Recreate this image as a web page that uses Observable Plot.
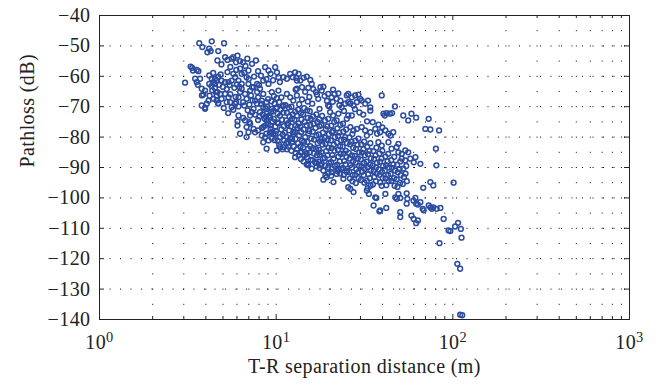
<!DOCTYPE html>
<html><head><meta charset="utf-8">
<script src="https://cdn.jsdelivr.net/npm/d3@7"></script>
<script src="https://cdn.jsdelivr.net/npm/@observablehq/plot@0.6"></script>
<style>html,body{margin:0;padding:0;background:#fff}</style>
</head><body><div id="chart"></div>
<script>
// [T-R separation distance (m), pathloss (dB)]
const measurements = [
[3.05,-62.1],[3.35,-57.2],[3.38,-58.1],[3.28,-56.8],[3.63,-58.3],[3.48,-60.8],[3.55,-61.9],[3.71,-60.8],[3.79,-64.1],[3.8,-66.3],[3.96,-64.7],[3.79,-69.6],[3.96,-70.7],[4.14,-68.0],[4.05,-69.0],[3.67,-49.1],[3.82,-50.4],[4.32,-48.5],[4.18,-50.9],[4.08,-52.1],[4.26,-51.7],[4.7,-51.7],[5.07,-49.1],[4.65,-54.8],[5.14,-53.7],[5.3,-54.6],[5.6,-54.2],[5.72,-53.7],[6.04,-53.2],[5.93,-55.4],[6.25,-55.0],[6.5,-55.4],[6.87,-54.2],[7.3,-55.9],[7.68,-54.8],
[4.18,-59.7],[4.32,-60.8],[4.42,-61.9],[4.51,-62.5],[4.6,-61.4],[4.7,-60.1],[4.91,-61.4],[5.14,-61.9],[5.37,-61.9],[5.6,-61.4],[5.86,-60.3],[6.12,-61.4],[6.38,-62.5],[6.8,-60.3],[6.97,-62.5],[5.72,-59.2],[6.25,-57.5],[6.38,-59.2],[6.97,-58.1],
[3.87,-66.0],[4.42,-67.4],[4.56,-65.2],[4.82,-65.8],[4.7,-68.8],[4.91,-67.4],[4.18,-62.5],[4.51,-60.8],[4.65,-65.2],[4.6,-66.3],[4.6,-68.0],[5.14,-65.8],[5.37,-66.9],[5.49,-68.5],[5.6,-70.2],[5.72,-71.0],[5.93,-68.5],[6.12,-66.9],[6.25,-65.2],[6.38,-64.1],[6.67,-65.8],[6.8,-67.4],[7.12,-64.7],[7.3,-63.6],
[6.12,-72.9],[6.04,-74.8],[6.5,-73.7],[7.12,-72.9],[7.05,-75.1],[6.04,-76.2],[6.25,-78.9],[6.8,-76.7],[6.8,-80.0],[6.67,-74.5],[7.12,-75.6],[7.45,-77.3],[6.97,-78.4],[7.6,-78.4],[7.9,-77.8],[8.45,-76.7],[8.83,-74.5],[9.25,-76.2],[8.3,-79.5],[8.66,-80.0],[8.45,-81.7],[9.05,-81.1],[8.83,-83.8],[9.45,-78.4],[9.87,-78.9],[10.1,-84.4],[10.5,-83.3],[11.0,-83.3],[11.5,-80.0],[11.7,-81.7],[12.3,-80.6],[12.5,-78.4],[5.25,-68.5],[5.86,-69.0],[6.12,-69.9],[6.5,-68.5],
[7.45,-63.6],[7.8,-65.2],[8.1,-64.1],[8.45,-65.8],[7.9,-66.9],[8.3,-68.0],[7.6,-68.0],[7.8,-69.0],[8.45,-70.2],[8.83,-68.5],[8.1,-71.8],[7.45,-70.7],[7.3,-71.8],[8.83,-72.3],[9.45,-70.7],[9.25,-73.5],[10.1,-70.2],[10.3,-64.7],[9.45,-65.2],[9.05,-62.5],[7.8,-62.5],[8.45,-61.4],[8.66,-57.0],[9.05,-58.1],[9.3,-59.2],[9.87,-57.0],[10.1,-58.7],[10.3,-60.3],[10.5,-61.9],[11.0,-60.3],[11.5,-60.8],[12.0,-59.2],[12.4,-60.3],[12.8,-58.7],[13.1,-61.4],[13.4,-59.2],[10.7,-66.9],[11.5,-65.8],[12.0,-66.9],[12.5,-68.0],[13.1,-66.3],[11.0,-69.6],
[3.96,-70.3],[4.7,-69.0],
[4.3,-63.2],[4.5,-63.9],[4.75,-62.8],[5.0,-63.5],[5.25,-64.2],[5.45,-62.9],[5.8,-63.8],[6.0,-62.7],[5.5,-65.9],[5.9,-66.8],[6.2,-63.5],[4.4,-58.9],[4.85,-59.4],[5.3,-58.6],[5.95,-57.9],[6.6,-58.8],[7.0,-60.9],[7.5,-60.1],[7.2,-66.3],[6.6,-69.6],[7.05,-69.3],[7.6,-72.6],[7.9,-74.4],[8.05,-73.2],[6.9,-71.2],[5.35,-72.1],[5.05,-70.4],[4.35,-64.6],[4.2,-66.4],[3.55,-57.9],[3.6,-62.8],[4.9,-56.1],[5.5,-56.9],[6.7,-56.6],[7.9,-58.3],[8.2,-59.8],[8.8,-60.9],[9.6,-61.3],[7.35,-67.9],[8.0,-62.9],
[13.0,-60.5],[13.7,-61.4],[14.3,-60.5],[14.9,-60.1],[15.6,-61.2],[15.9,-62.5],[15.2,-63.8],[14.0,-63.6],[13.1,-64.1],[17.8,-63.6],[18.5,-63.4],[18.1,-64.7],[16.8,-65.2],[17.0,-66.0],[19.7,-65.8],[20.6,-66.9],[21.4,-65.8],[22.5,-65.6],[22.0,-67.4],[23.1,-68.0],[25.1,-66.3],[25.6,-65.8],[26.8,-66.9],[28.0,-66.3],[29.2,-66.0],[29.9,-67.4],[28.6,-68.5],[30.5,-68.0],[31.9,-69.0],[33.1,-68.0],[34.1,-70.2],[25.6,-68.5],[26.3,-69.0],[27.4,-69.6],[24.6,-69.0],[21.0,-64.4],[20.0,-69.9],[34.1,-71.3],[39.6,-66.3],[47.0,-69.9],[40.5,-72.3],[42.2,-72.1],[44.0,-72.3],[45.3,-72.1],[41.2,-72.9],[58.3,-72.3],[55.9,-74.5],[62.0,-73.6],[52.4,-72.9],[73.0,-74.0],[69.9,-77.3],[74.6,-77.5],[83.6,-77.8],[80.2,-83.8],[80.7,-89.3],[101,-95.0],
[14.6,-65.1],[15.4,-66.8],[16.2,-64.2],[17.3,-67.4],[18.8,-66.5],[19.4,-68.1],[20.9,-68.4],[22.8,-69.5],[24.2,-71.4],[27.9,-70.8],[29.6,-71.9],[31.1,-72.6],[32.7,-74.8],[35.2,-75.1],[38.0,-75.9],[39.9,-76.8],[16.0,-69.0],[17.6,-70.7],[14.0,-67.6],[13.5,-69.2],[12.9,-64.4],[15.1,-68.3],
[19.7,-69.6],[20.2,-71.8],[21.0,-72.9],[22.5,-72.3],[23.5,-70.2],[25.6,-72.9],[26.8,-72.9],[22.0,-74.5],[23.9,-75.6],[25.1,-74.0],[26.3,-76.7],[27.4,-77.8],[28.6,-77.3],[30.5,-76.7],[31.9,-77.8],[32.6,-79.5],[34.1,-78.4],[36.4,-77.3],[37.3,-78.9],[38.8,-78.4],[41.5,-77.8],[43.2,-78.9],[46.0,-78.4],[44.3,-79.5],[49.2,-82.2],[37.9,-81.7],[39.6,-82.8],[43.2,-81.7],[45.0,-83.8],[48.1,-83.3],[49.2,-85.0],[51.4,-85.5],[53.8,-84.4],[55.9,-85.0],[57.4,-87.1],[53.8,-87.7],[51.4,-87.1],[60.1,-88.3],[61.4,-86.6],[65.5,-88.8],
[12.8,-86.6],[13.7,-85.0],[14.9,-85.5],[15.2,-89.3],[15.9,-90.4],[16.6,-88.3],[17.8,-89.3],[18.5,-91.0],[19.3,-93.2],[20.6,-91.5],[21.1,-94.8],[22.5,-90.4],[24.0,-93.7],[25.1,-91.5],[25.6,-96.5],
[14.9,-89.0],[16.9,-89.6],[18.1,-88.8],[18.5,-94.0],[19.0,-92.6],[19.7,-91.9],[22.0,-92.1],[26.3,-97.0],[27.4,-98.1],[32.6,-97.6],[33.5,-98.7],[35.6,-102.5],[36.4,-99.8],[38.8,-104.1],[41.5,-98.7],[42.0,-103.3],[47.2,-99.8],[48.1,-100.3],[50.4,-104.7],[50.4,-106.3],[54.8,-98.5],[54.8,-101.9],[58.3,-105.8],[60.0,-106.9],[62.0,-108.3],[63.4,-107.4],[60.0,-100.9],[62.0,-101.9],[65.5,-101.4],[67.5,-103.6],[68.4,-104.1],[73.0,-102.5],[74.6,-103.1],[76.0,-103.6],[77.5,-103.1],[81.0,-103.6],[85.0,-103.3],[88.7,-106.9],[94.6,-110.7],[84.0,-114.9],[74.6,-94.8],[77.5,-95.9],[68.0,-96.7],[36.9,-100.0],[38.4,-104.4],[49.2,-98.7],[50.4,-100.0],[55.3,-100.3],[61.4,-100.0],[63.4,-102.2],[96.8,-110.9],[103,-109.4],[107,-108.2],[111,-110.2],[112,-113.1],[106,-121.7],[110,-123.3],[110,-138.4],[113,-138.6],
[8.2,-69],[8.4,-72.5],[8.6,-74],[8.3,-77],
[9.0,-67.5],[8.9,-70],[9.1,-73],[9.0,-75.5],[9.2,-78.5],
[9.7,-66.5],[9.8,-69],[9.6,-71.5],[9.7,-74],[9.9,-76.5],[9.6,-79],[9.8,-81],
[10.4,-68.5],[10.6,-71],[10.5,-73],[10.3,-75.5],[10.7,-77.5],[10.5,-80],[10.4,-82.5],
[11.3,-69.5],[11.5,-72],[11.4,-74.5],[11.6,-76],[11.2,-78.5],[11.4,-82],[11.5,-84],
[12.2,-70],[12.4,-72.5],[12.3,-74],[12.1,-76.5],[12.5,-79],[12.3,-81.5],[12.2,-84.5],
[13.3,-71],[13.1,-73],[13.4,-75.5],[13.2,-77],[13.5,-79.5],[13.3,-82],[13.1,-84],[13.4,-86],
[14.4,-70.5],[14.2,-72.5],[14.5,-75],[14.3,-77.5],[14.6,-80],[14.4,-81.5],[14.2,-83.5],[14.5,-86],[14.3,-88],
[15.5,-71.5],[15.7,-74],[15.6,-76],[15.4,-78],[15.8,-80.5],[15.6,-83],[15.5,-85],[15.7,-87.5],
[16.9,-72.5],[17.1,-75],[16.7,-77],[16.9,-79.5],[17.2,-82],[16.8,-84],[17.0,-86],[16.9,-88.5],
[18.2,-73],[18.0,-76],[18.4,-78.5],[18.1,-80.5],[18.3,-82.5],[18.0,-85],[18.4,-87],
[19.7,-74],[19.5,-76.5],[19.9,-79],[19.6,-81],[19.8,-83.5],[19.5,-86],[19.9,-88.5],[19.7,-90],
[21.3,-75],[21.0,-78],[21.5,-80],[21.2,-82.5],[21.4,-84.5],[21.1,-87],[21.5,-89.5],
[23.1,-76],[22.8,-78.5],[23.3,-81],[23.0,-83],[23.2,-85.5],[22.9,-88],[23.3,-90.5],[23.0,-92],
[24.9,-77.5],[24.6,-80],[25.2,-82],[24.8,-84.5],[25.0,-86.5],[24.7,-89],[25.1,-91],
[27.0,-79],[26.7,-81.5],[27.3,-83.5],[26.9,-86],[27.2,-88],[26.8,-90],[27.1,-92.5],[27.0,-94.5],
[29.2,-80.5],[28.9,-82.5],[29.5,-85],[29.0,-87],[29.4,-89.5],[29.1,-91.5],[29.3,-93.5],
[31.5,-81.5],[31.2,-84],[31.8,-86],[31.4,-88.5],[31.7,-90.5],[31.3,-92.5],[31.6,-95],
[34.1,-82],[33.7,-84.5],[34.4,-87],[34.0,-89],[34.3,-91],[33.9,-93.5],[34.2,-96],
[36.9,-83.5],[36.5,-86],[37.2,-88.5],[36.8,-90],[37.1,-92],[36.7,-94.5],
[39.9,-84.5],[39.5,-87],[40.3,-89.5],[39.8,-91.5],[40.1,-93.5],[39.6,-96],
[43.1,-85.5],[42.7,-88],[43.5,-90],[43.0,-92.5],[43.3,-94.5],
[46.6,-86.5],[46.1,-89],[47.0,-91],[46.5,-93.5],[46.8,-96],
[50.4,-88],[50.0,-90.5],[50.8,-92.5],[50.3,-95],
[54.5,-89.5],[54.0,-92],[54.9,-94.5],
[8.7,-70.6],[8.75,-73.3],[8.6,-76.3],[8.8,-78.9],
[9.4,-68.2],[9.35,-71.7],[9.5,-74.8],[9.3,-77.3],[9.45,-80.4],
[10.1,-67.2],[10.0,-70.4],[10.2,-72.3],[10.15,-75.2],[10.0,-78.1],[10.2,-81.3],
[10.9,-69.8],[11.0,-71.9],[10.8,-74.3],[11.05,-76.4],[10.9,-79.2],[11.1,-81.1],[10.85,-84.0],
[11.8,-70.3],[11.9,-73.2],[11.7,-75.4],[11.85,-77.8],[12.0,-80.3],[11.75,-83.2],
[12.8,-71.6],[12.7,-74.3],[12.9,-76.2],[12.75,-78.3],[12.85,-80.6],[12.6,-83.1],[12.9,-85.2],
[13.8,-72.1],[13.9,-74.2],[13.7,-76.6],[13.85,-78.4],[14.0,-81.2],[13.75,-83.1],[13.95,-84.9],[13.8,-87.2],
[15.0,-71.2],[15.1,-73.7],[14.9,-76.1],[15.2,-78.8],[15.0,-81.6],[15.15,-83.8],[14.95,-86.6],[15.1,-88.7],
[16.2,-73.2],[16.3,-75.6],[16.1,-78.2],[16.4,-80.8],[16.2,-83.6],[16.35,-85.4],[16.1,-87.6],
[17.5,-74.2],[17.6,-76.4],[17.4,-79.1],[17.7,-81.4],[17.5,-84.2],[17.65,-85.9],[17.4,-88.1],[17.6,-90.2],
[18.9,-74.6],[19.1,-77.4],[18.8,-80.2],[19.0,-82.1],[19.2,-84.6],[18.85,-86.9],[19.05,-89.4],
[20.5,-76.2],[20.7,-78.4],[20.4,-81.1],[20.6,-83.6],[20.8,-85.9],[20.45,-88.2],[20.65,-90.4],[20.5,-92.7],
[22.2,-77.1],[22.4,-79.6],[22.1,-81.8],[22.35,-84.2],[22.5,-86.4],[22.15,-89.1],[22.3,-91.2],
[24.0,-78.2],[24.2,-80.8],[23.8,-83.1],[24.1,-85.4],[24.3,-87.9],[23.9,-90.2],[24.15,-92.4],
[26.0,-80.1],[26.2,-82.4],[25.8,-85.2],[26.1,-87.1],[26.3,-89.2],[25.9,-91.4],[26.15,-93.6],
[28.1,-81.2],[28.3,-83.9],[27.9,-86.2],[28.2,-88.4],[28.4,-90.6],[28.0,-92.4],[28.25,-95.1],
[30.3,-82.4],[30.6,-85.1],[30.1,-87.4],[30.4,-89.6],[30.7,-91.4],[30.2,-94.1],
[32.8,-83.2],[33.1,-85.6],[32.5,-88.1],[32.9,-89.9],[33.2,-92.2],[32.6,-94.4],[32.95,-96.8],
[35.5,-84.6],[35.8,-87.2],[35.2,-89.4],[35.6,-91.2],[35.9,-93.1],[35.3,-95.6],
[38.4,-85.4],[38.7,-88.1],[38.1,-90.6],[38.5,-92.4],[38.8,-94.9],
[41.5,-86.4],[41.9,-89.2],[41.2,-91.1],[41.6,-93.6],[42.0,-95.8],
[44.8,-87.6],[45.2,-90.1],[44.5,-92.1],[44.9,-94.4],
[48.4,-89.1],[48.8,-91.6],[48.1,-93.9],[48.6,-96.4],
[52.4,-90.4],[52.9,-93.1],[52.1,-95.4]
];
const xMajorTicks = [1, 10, 100, 1000];
const xMinorTicks = [2, 3, 4, 5, 6, 7, 8, 9, 20, 30, 40, 50, 60, 70, 80, 90, 200, 300, 400, 500, 600, 700, 800, 900];
const yTicks = [-140, -130, -120, -110, -100, -90, -80, -70, -60, -50, -40];
const xAxisLabel = "T-R separation distance (m)";
const yAxisLabel = "Pathloss (dB)";

const data = measurements.map(([distance, pathloss]) => ({distance, pathloss}));
const xGrid = [...xMajorTicks, ...xMinorTicks];

const W = 656, H = 385, mL = 99, mR = 27, mT = 15, mB = 66;
const frameW = W - mL - mR, frameH = H - mT - mB;
const ink = "#222";
const font = "'Liberation Serif', 'DejaVu Serif', serif";
const fs = 20;

const chart = Plot.plot({
  width: W, height: H,
  marginLeft: mL, marginRight: mR, marginTop: mT, marginBottom: mB,
  style: {fontFamily: font, fontSize: fs + "px", color: ink, background: "#fff", letterSpacing: "0.4px"},
  x: {type: "log", domain: [1, 1000], label: null},
  y: {domain: [-140, -40], label: null},
  marks: [
    Plot.ruleX(xGrid, {stroke: "#000", strokeWidth: 1, strokeDasharray: "1,14.2"}),
    Plot.ruleY(yTicks, {stroke: "#000", strokeWidth: 1, strokeDasharray: "1,9.5"}),
    Plot.dot(data, {x: "distance", y: "pathloss", r: 2.4, stroke: "#2a4ba0", strokeWidth: 1.5, fill: "none"}),
    Plot.tickX(xMajorTicks, {x: d => d, insetTop: frameH - 5, stroke: ink}),
    Plot.tickX(xMajorTicks, {x: d => d, insetBottom: frameH - 5, stroke: ink}),
    Plot.tickX(xMinorTicks, {x: d => d, insetTop: frameH - 3, stroke: ink}),
    Plot.tickX(xMinorTicks, {x: d => d, insetBottom: frameH - 3, stroke: ink}),
    Plot.tickY(yTicks, {y: d => d, insetRight: frameW - 5, stroke: ink}),
    Plot.tickY(yTicks, {y: d => d, insetLeft: frameW - 5, stroke: ink}),
    Plot.axisX(xMajorTicks, {tickSize: 0, tickPadding: 15, label: null, fontSize: fs, fill: ink,
      tickFormat: d => String(Math.round(Math.log10(d)))}),
    Plot.axisY(yTicks, {tickSize: 0, tickPadding: 9, label: null, fontSize: fs, fill: ink}),
    Plot.text([xAxisLabel], {frameAnchor: "bottom", dy: 53, fontSize: fs, fill: ink}),
    Plot.text([yAxisLabel], {frameAnchor: "left", rotate: -90, dx: -72, fontSize: fs, fill: ink}),
    Plot.frame({stroke: ink, strokeWidth: 1})
  ]
});

// render x tick labels as powers of ten: 10 with a superscript exponent
d3.select(chart).selectAll('g[aria-label="x-axis tick label"] text').each(function() {
  const e = this.textContent;
  this.textContent = "10";
  d3.select(this).append("tspan").attr("dy", "-0.45em").attr("font-size", "0.72em").text(e);
});

document.getElementById("chart").appendChild(chart);
</script>
</body></html>
